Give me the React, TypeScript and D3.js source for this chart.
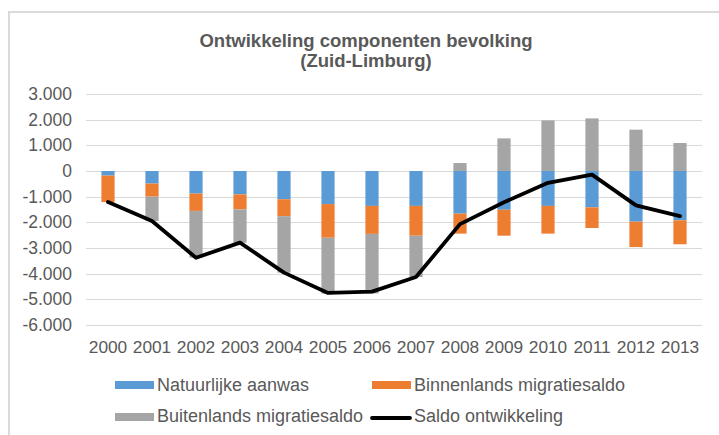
import React from 'react';
import * as d3 from 'd3';

const years = ['2000', '2001', '2002', '2003', '2004', '2005', '2006', '2007', '2008', '2009', '2010', '2011', '2012', '2013'];
const natuurlijk = [-180, -490, -880, -910, -1100, -1290, -1360, -1360, -1660, -1510, -1360, -1415, -1975, -1920];
const binnenlands = [-1030, -510, -675, -585, -660, -1310, -1090, -1160, -780, -1010, -1080, -805, -990, -935];
const buitenlands = [0, -950, -1820, -1300, -2200, -2180, -2320, -1610, 310, 1270, 1970, 2050, 1610, 1090];
const saldo = [-1210, -1950, -3380, -2790, -3960, -4750, -4700, -4130, -2070, -1220, -460, -140, -1340, -1760];
const yTicks = [3000, 2000, 1000, 0, -1000, -2000, -3000, -4000, -5000, -6000];

const seriesNames = ['Natuurlijke aanwas', 'Binnenlands migratiesaldo', 'Buitenlands migratiesaldo'];
const colors = ['#5B9BD5', '#ED7D31', '#A5A5A5'];

const W = 719;
const H = 435;
const font = '"Liberation Sans", Arial, sans-serif';
const textColor = '#595959';

const nl = d3.formatLocale({ decimal: ',', thousands: '.', grouping: [3], currency: ['', ''], minus: '-' });
const fmt = nl.format(',');

export default function App() {
  const x = d3.scaleBand<string>().domain(years).range([86, 702]).paddingInner(0.7).paddingOuter(0.35);
  const y = d3.scaleLinear().domain([-6000, 3000]).range([325, 94]);

  const rows = years.map((yr, i) => ({ year: yr, a: natuurlijk[i], b: binnenlands[i], c: buitenlands[i] }));
  const stack = d3.stack<any>().keys(['a', 'b', 'c']).offset(d3.stackOffsetDiverging).order(d3.stackOrderNone);
  const layers = stack(rows);

  const line = d3.line<number>()
    .x((_, i) => (x(years[i]) as number) + x.bandwidth() / 2)
    .y(d => y(d));

  return (
    <div style={{ position: 'absolute', left: 0, top: 0 }}>
      <svg width={W} height={H} style={{ display: 'block', background: '#fff' }}>
        <rect width={W} height={H} fill="#fff" />
        <path d={`M9,${H} V12 H${W}`} fill="none" stroke="#D9D9D9" strokeWidth={2} />

        <text x={366} y={47} textAnchor="middle" fontFamily={font} fontWeight="bold" fontSize={18.5} fill={textColor}>
          Ontwikkeling componenten bevolking
        </text>
        <text x={366} y={67} textAnchor="middle" fontFamily={font} fontWeight="bold" fontSize={18.5} fill={textColor}>
          (Zuid-Limburg)
        </text>

        {yTicks.map(t => (
          <g key={t}>
            <line x1={86} x2={702} y1={Math.round(y(t)) + 0.5} y2={Math.round(y(t)) + 0.5} stroke="#D9D9D9" strokeWidth={1} />
            <text x={72} y={y(t) + 6} textAnchor="end" fontFamily={font} fontSize={17.5} fill={textColor}>
              {fmt(t)}
            </text>
          </g>
        ))}

        {layers.map((layer, li) => (
          <g key={li} fill={colors[li]}>
            {layer.map((d, i) => (
              <rect
                key={i}
                x={x(years[i])}
                width={x.bandwidth()}
                y={y(Math.max(d[0], d[1]))}
                height={Math.abs(y(d[0]) - y(d[1]))}
              />
            ))}
          </g>
        ))}

        <path d={line(saldo) || ''} fill="none" stroke="#000" strokeWidth={3.8} strokeLinejoin="round" strokeLinecap="round" />

        {years.map(yr => (
          <text key={yr} x={(x(yr) as number) + x.bandwidth() / 2} y={353} textAnchor="middle" fontFamily={font} fontSize={17.3} fill={textColor}>
            {yr}
          </text>
        ))}

        <g fontFamily={font} fontSize={18} fill={textColor}>
          <rect x={115} y={381} width={39} height={8} fill={colors[0]} />
          <text x={157} y={391}>{seriesNames[0]}</text>
          <rect x={372} y={381} width={39} height={8} fill={colors[1]} />
          <text x={414} y={391}>{seriesNames[1]}</text>
          <rect x={115} y={413} width={39} height={8} fill={colors[2]} />
          <text x={157} y={422}>{seriesNames[2]}</text>
          <line x1={372} x2={410} y1={418} y2={418} stroke="#000" strokeWidth={3.8} strokeLinecap="round" />
          <text x={414} y={422}>Saldo ontwikkeling</text>
        </g>
      </svg>
    </div>
  );
}
